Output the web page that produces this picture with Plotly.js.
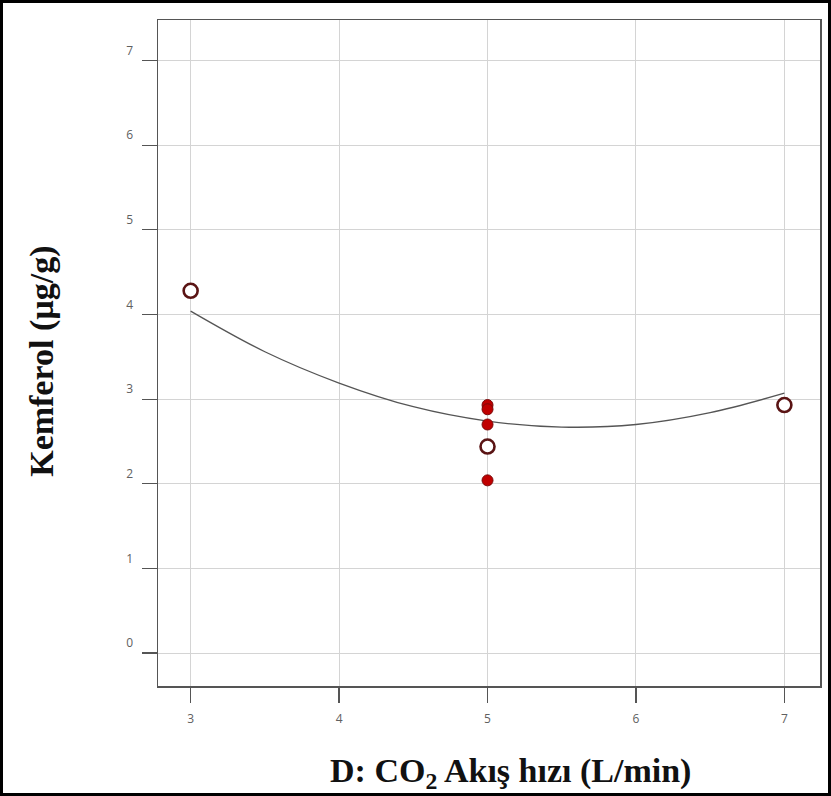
<!DOCTYPE html>
<html>
<head>
<meta charset="utf-8">
<script src="https://cdn.plot.ly/plotly-3.0.1.min.js"></script>
<style>
  html, body { margin: 0; padding: 0; background: #fff; }
  #wrap { position: relative; width: 831px; height: 796px; }
  #chart { position: absolute; left: 0; top: 0; width: 831px; height: 796px; }
  #frame { position: absolute; left: 0; top: 0; width: 831px; height: 796px; box-sizing: border-box; border: 3px solid #000; pointer-events: none; }
</style>
</head>
<body>
<div id="wrap">
  <div id="chart"></div>
  <div id="frame"></div>
</div>
<script>
// Design points (open circles)
const designX = [3, 5, 7];
const designY = [4.28, 2.44, 2.93];
// Center replicate points (filled red)
const centerX = [5, 5, 5, 5];
const centerY = [2.93, 2.88, 2.70, 2.04];
// Fitted curve
const curveX = [3, 3.5, 4, 4.5, 5, 5.5, 6, 6.5, 7];
const curveY = [4.04, 3.56, 3.19, 2.91, 2.74, 2.67, 2.70, 2.84, 3.07];
// Axis ticks
const xTicks = [3, 4, 5, 6, 7];
const yTicks = [0, 1, 2, 3, 4, 5, 6, 7];
// Titles
const xTitle = '<b>D: CO<sub>2</sub> Akış hızı (L/min)</b>';
const yTitle = '<b>Kemferol (µg/g)</b>';

const traces = [
  {
    x: curveX, y: curveY, type: 'scatter', mode: 'lines',
    line: { color: '#555555', width: 1.3, shape: 'spline', smoothing: 1 },
    hoverinfo: 'skip', showlegend: false
  },
  {
    x: centerX, y: centerY, type: 'scatter', mode: 'markers',
    marker: { size: 11, color: '#c00000', line: { color: '#7a0a0a', width: 1 } },
    showlegend: false
  },
  {
    x: designX, y: designY, type: 'scatter', mode: 'markers',
    marker: { size: 14, color: '#ffffff', line: { color: '#5a1414', width: 2.6 } },
    showlegend: false
  }
];

const axisCommon = {
  showline: true, mirror: true, linecolor: '#555555', linewidth: 1.5,
  showgrid: true, gridcolor: '#d4d4d4', gridwidth: 1,
  zeroline: false,
  ticks: 'outside', ticklen: 15, tickcolor: '#555555', tickwidth: 1.2,
  tickfont: { family: 'Open Sans, sans-serif', size: 12, color: '#606060' }
};

const layout = {
  width: 831, height: 796,
  paper_bgcolor: '#ffffff', plot_bgcolor: '#ffffff',
  margin: { l: 158, r: 11, t: 20, b: 110 },
  xaxis: Object.assign({}, axisCommon, {
    range: [2.78, 7.24], tickvals: xTicks, ticktext: xTicks.map(String),
    ticklabelstandoff: 6
  }),
  yaxis: Object.assign({}, axisCommon, {
    range: [-0.39, 7.48], tickvals: yTicks, ticktext: yTicks.map(String),
    ticklabelshift: -10, ticklabelstandoff: 6
  }),
  annotations: [
    {
      xref: 'paper', yref: 'paper', x: 0.532, y: 0, yshift: -87,
      xanchor: 'center', yanchor: 'middle', showarrow: false,
      text: xTitle,
      font: { family: 'Liberation Serif, Times New Roman, serif', size: 34, color: '#111111' }
    },
    {
      xref: 'paper', yref: 'paper', x: -0.175, y: 0.487,
      xanchor: 'center', yanchor: 'middle', showarrow: false, textangle: -90,
      text: yTitle,
      font: { family: 'Liberation Serif, Times New Roman, serif', size: 34, color: '#111111' }
    }
  ]
};

Plotly.newPlot('chart', traces, layout, { displayModeBar: false, staticPlot: true });
</script>
</body>
</html>
